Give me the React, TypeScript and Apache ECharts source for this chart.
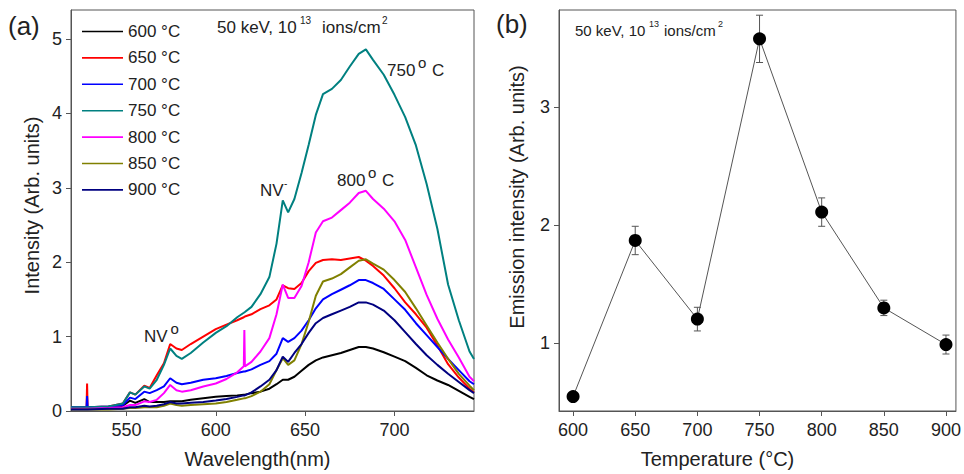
import React, { useEffect, useRef } from "react";
import * as echarts from "echarts";

// ---------- Panel (a): PL spectra ----------
const wavelengths = [519, 527.7, 528, 528.3, 540, 548, 552, 555, 560, 563, 567, 571, 574.5, 578, 581, 586, 593, 600, 606, 612, 615.7, 616, 616.3, 620, 625, 630, 634, 637.5, 640.5, 644, 648, 652, 656, 660, 665, 670, 675, 680, 684, 688, 694, 700, 706, 712, 718, 724, 730, 736, 742, 744.5];

const i600 = [0.03, 0.03, 0.03, 0.03, 0.04, 0.07, 0.14, 0.11, 0.16, 0.12, 0.12, 0.12, 0.13, 0.13, 0.13, 0.15, 0.17, 0.19, 0.2, 0.21, 0.22, 0.22, 0.22, 0.24, 0.26, 0.3, 0.36, 0.42, 0.42, 0.46, 0.54, 0.62, 0.68, 0.72, 0.75, 0.78, 0.82, 0.86, 0.86, 0.84, 0.79, 0.73, 0.67, 0.58, 0.48, 0.41, 0.35, 0.27, 0.19, 0.16];
const i650 = [0.05, 0.05, 0.37, 0.05, 0.06, 0.1, 0.25, 0.22, 0.34, 0.31, 0.48, 0.64, 0.9, 0.84, 0.82, 0.9, 1.0, 1.1, 1.16, 1.22, 1.26, 1.26, 1.27, 1.3, 1.37, 1.42, 1.5, 1.69, 1.65, 1.64, 1.72, 1.88, 1.99, 2.03, 2.04, 2.03, 2.05, 2.07, 2.02, 1.95, 1.82, 1.65, 1.46, 1.3, 1.12, 0.88, 0.63, 0.45, 0.3, 0.25];
const i700 = [0.05, 0.05, 0.2, 0.05, 0.06, 0.08, 0.18, 0.16, 0.26, 0.24, 0.28, 0.33, 0.44, 0.38, 0.36, 0.38, 0.42, 0.44, 0.47, 0.51, 0.53, 0.53, 0.53, 0.56, 0.62, 0.67, 0.77, 0.98, 0.93, 0.98, 1.08, 1.22, 1.38, 1.5, 1.57, 1.63, 1.69, 1.76, 1.76, 1.72, 1.64, 1.5, 1.36, 1.18, 1.02, 0.86, 0.7, 0.55, 0.4, 0.36];
const i750 = [0.05, 0.05, 0.05, 0.05, 0.06, 0.1, 0.25, 0.22, 0.33, 0.3, 0.42, 0.62, 0.84, 0.74, 0.7, 0.78, 0.92, 1.05, 1.14, 1.26, 1.32, 1.32, 1.33, 1.4, 1.57, 1.8, 2.25, 2.83, 2.67, 2.85, 3.2, 3.58, 3.98, 4.26, 4.33, 4.45, 4.63, 4.8, 4.86, 4.72, 4.52, 4.25, 3.95, 3.57, 3.05, 2.45, 1.7, 1.22, 0.8, 0.7];
const i800 = [0.03, 0.03, 0.03, 0.03, 0.04, 0.05, 0.08, 0.08, 0.13, 0.12, 0.15, 0.24, 0.35, 0.28, 0.26, 0.28, 0.33, 0.37, 0.43, 0.52, 0.6, 1.09, 0.6, 0.66, 0.8, 0.98, 1.3, 1.7, 1.52, 1.52, 1.68, 2.0, 2.4, 2.55, 2.6, 2.7, 2.8, 2.93, 2.96, 2.85, 2.72, 2.55, 2.3, 1.93, 1.56, 1.24, 0.96, 0.72, 0.46, 0.4];
const i850 = [0.02, 0.02, 0.02, 0.02, 0.02, 0.03, 0.04, 0.04, 0.05, 0.05, 0.05, 0.07, 0.1, 0.08, 0.07, 0.08, 0.09, 0.1, 0.12, 0.15, 0.17, 0.17, 0.17, 0.2, 0.26, 0.36, 0.55, 0.71, 0.62, 0.68, 0.9, 1.2, 1.55, 1.74, 1.78, 1.84, 1.93, 2.02, 2.04, 1.98, 1.9, 1.76, 1.6, 1.38, 1.15, 0.92, 0.7, 0.5, 0.34, 0.28];
const i900 = [0.02, 0.02, 0.02, 0.02, 0.03, 0.03, 0.05, 0.05, 0.07, 0.06, 0.07, 0.09, 0.12, 0.1, 0.1, 0.11, 0.12, 0.14, 0.16, 0.19, 0.21, 0.21, 0.21, 0.25, 0.33, 0.42, 0.55, 0.73, 0.66, 0.78, 0.9, 1.05, 1.18, 1.25, 1.3, 1.35, 1.4, 1.46, 1.46, 1.43, 1.35, 1.22, 1.06, 0.9, 0.75, 0.62, 0.5, 0.39, 0.28, 0.24];

const spectraNames = ["600 °C", "650 °C", "700 °C", "750 °C", "800 °C", "850 °C", "900 °C"];
const spectraValues = [i600, i650, i700, i750, i800, i850, i900];
const spectraColors = ["#000000", "#ff0000", "#0000ff", "#008080", "#ff00ff", "#808000", "#000080"];

const wavelengthTicks = [550, 600, 650, 700];
const intensityTicks = [0, 1, 2, 3, 4, 5];

// ---------- Panel (b): integrated emission ----------
const temperatures = [600, 650, 700, 750, 800, 850, 900];
const emission = [0.55, 1.87, 1.205, 3.575, 2.11, 1.3, 0.99];
const emissionErr = [0.02, 0.12, 0.1, 0.2, 0.12, 0.065, 0.08];

const temperatureTicks = [600, 650, 700, 750, 800, 850, 900];
const emissionTicks = [1, 2, 3];

const FONT = "'Liberation Sans', Arial, Helvetica, sans-serif";
const TXT = "#222";
const AX = "#555";

function txt(text: string, x: number, y: number, size: number, extra: any = {}) {
  return {
    type: "text",
    x,
    y,
    silent: true,
    style: { text, fontSize: size, fontFamily: FONT, fill: TXT, verticalAlign: "middle", align: "left", ...extra },
  };
}

export default function App() {
  const ref = useRef<HTMLDivElement>(null);

  useEffect(() => {
    if (!ref.current) return;
    const chart = echarts.init(ref.current, undefined, { renderer: "svg" });

    const axisCommon = {
      axisLine: { show: true, lineStyle: { color: AX, width: 1 } },
      axisTick: { show: true, inside: false, length: 5, lineStyle: { color: AX, width: 1 } },
      splitLine: { show: false },
      nameLocation: "middle" as const,
    };
    const labelStyle = { fontSize: 18, color: TXT, fontFamily: FONT };

    const spectraSeries = spectraValues.map((vals, k) => ({
      name: spectraNames[k],
      type: "line",
      xAxisIndex: 0,
      yAxisIndex: 0,
      symbol: "none",
      showSymbol: false,
      data: wavelengths.map((w, i) => [w, vals[i]]),
      lineStyle: { color: spectraColors[k], width: 2 },
      itemStyle: { color: spectraColors[k] },
      clip: true,
    }));

    const option: any = {
      animation: false,
      backgroundColor: "#ffffff",
      textStyle: { fontFamily: FONT },
      grid: [
        { left: 71, top: 10, width: 403, height: 403, show: true, borderColor: AX, borderWidth: 1, containLabel: false },
        { left: 559, top: 10, width: 403, height: 403, show: true, borderColor: AX, borderWidth: 1, containLabel: false },
      ],
      legend: {
        orient: "vertical",
        left: 77,
        top: 16.5,
        icon: "rect",
        itemWidth: 41,
        itemHeight: 1.6,
        itemGap: 6.4,
        data: spectraNames,
        textStyle: { fontSize: 17, color: TXT, fontFamily: FONT, lineHeight: 20 },
        selectedMode: false,
      },
      xAxis: [
        {
          ...axisCommon,
          gridIndex: 0,
          type: "value",
          min: 519,
          max: 744.5,
          name: "Wavelength(nm)",
          nameGap: 38,
          nameTextStyle: { fontSize: 20, color: TXT, fontFamily: FONT, padding: [0, 30, 0, 0] },
          axisTick: { ...axisCommon.axisTick, customValues: wavelengthTicks },
          axisLabel: { ...labelStyle, margin: 10, customValues: wavelengthTicks },
        },
        {
          ...axisCommon,
          gridIndex: 1,
          type: "value",
          min: 588.67,
          max: 908,
          name: "Temperature (°C)",
          nameGap: 38,
          nameTextStyle: { fontSize: 20, color: TXT, fontFamily: FONT, padding: [0, 80, 0, 0] },
          axisTick: { ...axisCommon.axisTick, customValues: temperatureTicks },
          axisLabel: { ...labelStyle, margin: 10, customValues: temperatureTicks },
        },
      ],
      yAxis: [
        {
          ...axisCommon,
          gridIndex: 0,
          type: "value",
          min: 0,
          max: 5.39,
          name: "Intensity (Arb. units)",
          nameGap: 29,
          nameTextStyle: { fontSize: 20, color: TXT, fontFamily: FONT, padding: [0, 0, 0, 10] },
          axisTick: { ...axisCommon.axisTick, customValues: intensityTicks },
          axisLabel: { ...labelStyle, margin: 9, customValues: intensityTicks },
        },
        {
          ...axisCommon,
          gridIndex: 1,
          type: "value",
          min: 0.428,
          max: 3.819,
          name: "Emission intensity (Arb. units)",
          nameGap: 32,
          nameTextStyle: { fontSize: 20, color: TXT, fontFamily: FONT, padding: [0, 0, 0, 27] },
          axisTick: { ...axisCommon.axisTick, customValues: emissionTicks },
          axisLabel: { ...labelStyle, margin: 9, customValues: emissionTicks },
        },
      ],
      series: [
        ...spectraSeries,
        {
          name: "errors",
          type: "custom",
          xAxisIndex: 1,
          yAxisIndex: 1,
          z: 1,
          data: temperatures.map((t, i) => [t, emission[i], emissionErr[i]]),
          encode: { x: 0, y: 1 },
          renderItem: (params: any, api: any) => {
            const x = api.value(0);
            const y = api.value(1);
            const e = api.value(2);
            const top = api.coord([x, y + e]);
            const bot = api.coord([x, y - e]);
            const h = 3.5;
            const st = { stroke: "#555", lineWidth: 1 };
            return {
              type: "group",
              children: [
                { type: "line", shape: { x1: top[0], y1: top[1], x2: bot[0], y2: bot[1] }, style: st },
                { type: "line", shape: { x1: top[0] - h, y1: top[1], x2: top[0] + h, y2: top[1] }, style: st },
                { type: "line", shape: { x1: bot[0] - h, y1: bot[1], x2: bot[0] + h, y2: bot[1] }, style: st },
              ],
            };
          },
        },
        {
          name: "emission",
          type: "line",
          xAxisIndex: 1,
          yAxisIndex: 1,
          z: 3,
          symbol: "circle",
          symbolSize: 13,
          data: temperatures.map((t, i) => [t, emission[i]]),
          lineStyle: { color: "#555", width: 1 },
          itemStyle: { color: "#000" },
        },
      ],
      graphic: [
        txt("(a)", 8, 26, 26),
        txt("(b)", 496, 24, 26),
        // panel (a) condition note
        txt("50 keV, 10", 217, 27, 17),
        txt("13", 300, 20, 10),
        txt("ions/cm", 322, 27, 17),
        txt("2", 382, 20, 10),
        // panel (b) condition note
        txt("50 keV, 10", 575, 30, 15),
        txt("13", 649, 24, 9),
        txt("ions/cm", 664, 30, 15),
        txt("2", 718, 24, 9),
        // peak annotations
        txt("750", 387, 70, 17),
        txt("o", 418, 62, 15),
        txt("C", 432, 70, 17),
        txt("800", 337, 180, 17),
        txt("o", 368, 172, 15),
        txt("C", 382, 180, 17),
        txt("NV", 260, 190, 17),
        txt("-", 284, 183, 10),
        txt("NV", 144, 336, 17),
        txt("o", 170.5, 328, 15),
      ],
    };

    chart.setOption(option);
    return () => chart.dispose();
  }, []);

  return (
    <div
      ref={ref}
      style={{ position: "absolute", left: 0, top: 0, width: 964, height: 474, background: "#fff" }}
    />
  );
}
